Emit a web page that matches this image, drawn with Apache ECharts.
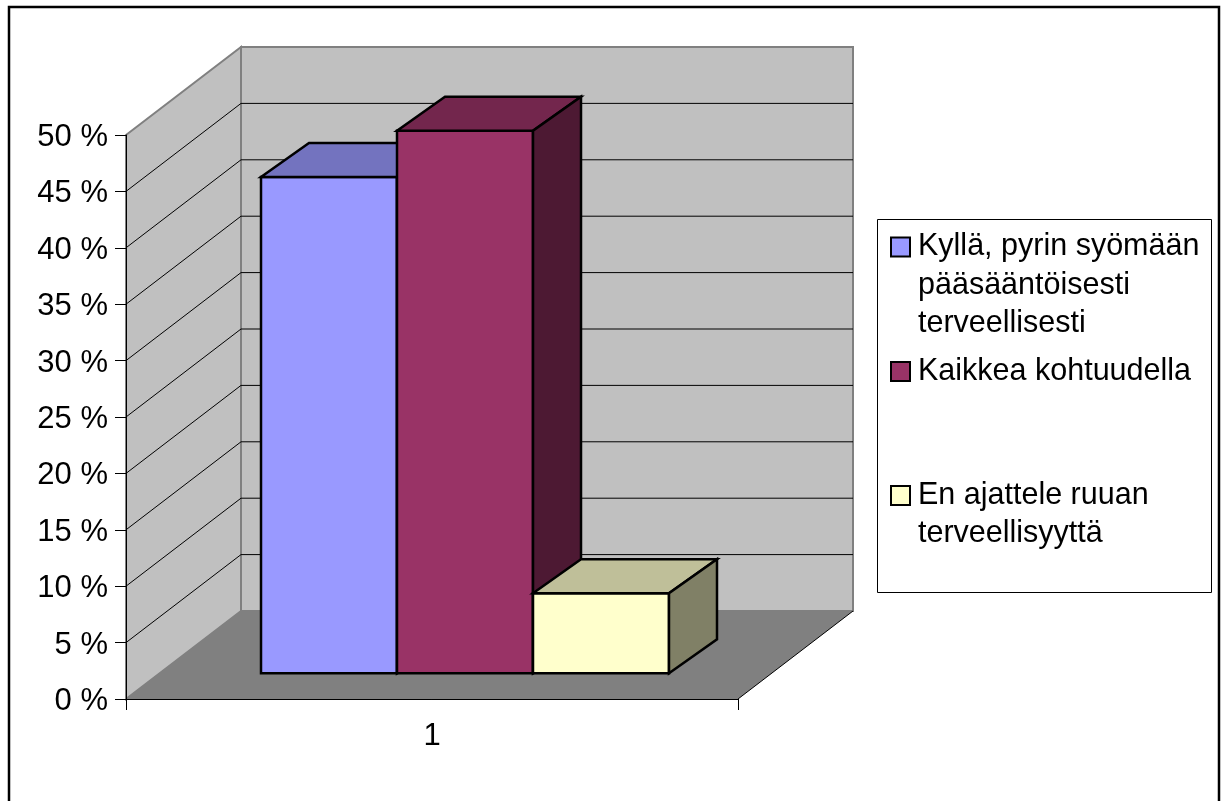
<!DOCTYPE html>
<html>
<head>
<meta charset="utf-8">
<style>html,body{margin:0;padding:0;background:#fff}#chart{width:1226px;height:801px}</style>
<script src="https://cdn.jsdelivr.net/npm/echarts@6/dist/echarts.min.js"></script>
</head>
<body>
<div id="chart"></div>
<script>
// Survey answers, percent of respondents
const categories = ['1'];
const seriesNames = ['Kyllä, pyrin syömään pääsääntöisesti terveellisesti', 'Kaikkea kohtuudella', 'En ajattele ruuan terveellisyyttä'];
const seriesValues = [44, 48.1, 7.1];
const legendLines = [
  ['Kyllä, pyrin syömään', 'pääsääntöisesti', 'terveellisesti'],
  ['Kaikkea kohtuudella'],
  ['En ajattele ruuan', 'terveellisyyttä']
];
const gridTicks = [5, 10, 15, 20, 25, 30, 35, 40, 45];
const axisMin = 0, axisMax = 50, axisStep = 5;

const frontColors = ['#9999ff', '#993366', '#ffffcc'];
const topColors = ['#7373bf', '#73264d', '#bfbf99'];
const sideColors = ['#4d4d80', '#4d1933', '#808066'];

// Oblique projection: full depth of the plot box and the offset and depth of the columns
const DEPTH_X = 115, DEPTH_Y = 88;
const BAR_OFFSET_X = 33, BAR_OFFSET_Y = 25.7;
const BAR_DEPTH_X = 48, BAR_DEPTH_Y = 34;
const GAP_SHARE = 0.75;   // gap on either side, in column widths

const FONT = '"Liberation Sans", Arial, sans-serif';
const FONT_SIZE = 31;
const LEGEND_FONT_SIZE = 30.5;
const LINE_HEIGHT = 38.5;

function poly(points, fill, stroke, width) {
  return {
    type: 'polygon',
    shape: { points: points },
    style: { fill: fill, stroke: stroke, lineWidth: width, lineJoin: 'miter' }
  };
}

function renderWalls(params, api) {
  const band = api.size([1, 0])[0];
  const cx = api.coord([0, axisMin])[0];
  const x0 = cx - band / 2, x1 = cx + band / 2;
  const y0 = api.coord([0, axisMin])[1], y1 = api.coord([0, axisMax])[1];
  return {
    type: 'group',
    children: [
      poly([[x0 + DEPTH_X, y1 - DEPTH_Y], [x1 + DEPTH_X, y1 - DEPTH_Y], [x1 + DEPTH_X, y0 - DEPTH_Y], [x0 + DEPTH_X, y0 - DEPTH_Y]], '#c0c0c0', '#808080', 2),
      poly([[x0, y1], [x0 + DEPTH_X, y1 - DEPTH_Y], [x0 + DEPTH_X, y0 - DEPTH_Y], [x0, y0]], '#c0c0c0', '#808080', 2),
      poly([[x0, y0], [x1, y0], [x1 + DEPTH_X, y0 - DEPTH_Y], [x0 + DEPTH_X, y0 - DEPTH_Y]], '#808080', null, 0),
      {
        type: 'line',
        shape: { x1: x1, y1: y0, x2: x1 + DEPTH_X, y2: y0 - DEPTH_Y },
        style: { stroke: '#000', lineWidth: 1 }
      }
    ]
  };
}

function renderGridline(params, api) {
  const band = api.size([1, 0])[0];
  const p = api.coord([0, api.value(1)]);
  const x0 = p[0] - band / 2, x1 = p[0] + band / 2;
  return {
    type: 'polyline',
    shape: { points: [[x0, p[1]], [x0 + DEPTH_X, p[1] - DEPTH_Y], [x1 + DEPTH_X, p[1] - DEPTH_Y]] },
    style: { stroke: '#000', lineWidth: 1, fill: null }
  };
}

function barRenderer(index) {
  return function (params, api) {
    const band = api.size([1, 0])[0];
    const base = api.coord([0, axisMin]);
    const top = api.coord([0, api.value(1)]);
    const w = band / (seriesValues.length + 2 * GAP_SHARE);
    const l = base[0] - band / 2 + w * (GAP_SHARE + index) + BAR_OFFSET_X;
    const r = l + w;
    const b = base[1] - BAR_OFFSET_Y;
    const t = top[1] - BAR_OFFSET_Y;
    const dx = BAR_DEPTH_X, dy = BAR_DEPTH_Y;
    return {
      type: 'group',
      children: [
        poly([[l, b], [r, b], [r, t], [l, t]], frontColors[index], '#000', 2.5),
        poly([[l, t], [r, t], [r + dx, t - dy], [l + dx, t - dy]], topColors[index], '#000', 2.5),
        poly([[r, b], [r + dx, b - dy], [r + dx, t - dy], [r, t]], sideColors[index], '#000', 2.5)
      ]
    };
  };
}

// One legend block per entry so each keeps its own vertical slot
const legendCentres = [246.5, 371, 495];
const legendBlocks = seriesNames.map(function (name, i) {
  const lines = legendLines[i];
  const padded = new Array(lines.length - 1).fill('').concat(lines);
  const height = padded.length * LINE_HEIGHT;
  return {
    show: true,
    data: [name],
    orient: 'vertical',
    left: 890,
    top: legendCentres[i] - height / 2,
    padding: 0,
    itemWidth: 19,
    itemHeight: 19,
    icon: 'rect',
    selectedMode: false,
    formatter: function () { return padded.join('\n'); },
    textStyle: {
      fontFamily: FONT,
      fontSize: LEGEND_FONT_SIZE,
      lineHeight: LINE_HEIGHT,
      color: '#000',
      padding: [1, 0, 0, 3]
    }
  };
});

const barSeries = seriesNames.map(function (name, i) {
  return {
    type: 'custom',
    name: name,
    z: 5 + i,
    renderItem: barRenderer(i),
    encode: { x: 0, y: 1 },
    itemStyle: { color: frontColors[i], borderColor: '#000', borderWidth: 2 },
    data: [[0, seriesValues[i]]]
  };
});

const chart = echarts.init(document.getElementById('chart'), null, { renderer: 'canvas' });
chart.setOption({
  animation: false,
  backgroundColor: '#fff',
  tooltip: { show: false },
  graphic: [
    {
      type: 'rect', z: 0, silent: true,
      shape: { x: 9, y: 7, width: 1210, height: 830 },
      style: { fill: null, stroke: '#000', lineWidth: 2.5 }
    },
    {
      type: 'rect', z: 0, silent: true,
      shape: { x: 877.5, y: 219.5, width: 334, height: 373 },
      style: { fill: '#fff', stroke: '#000', lineWidth: 1 }
    }
  ],
  legend: legendBlocks,
  grid: { left: 126, top: 135, width: 612, height: 564, containLabel: false },
  xAxis: {
    type: 'category',
    data: categories,
    z: 10,
    axisLine: { lineStyle: { color: '#000', width: 1 } },
    axisTick: { show: true, length: 11, lineStyle: { color: '#000', width: 1 } },
    axisLabel: { fontFamily: FONT, fontSize: FONT_SIZE, color: '#000', margin: 22 }
  },
  yAxis: {
    type: 'value',
    min: axisMin,
    max: axisMax,
    interval: axisStep,
    z: 10,
    splitLine: { show: false },
    axisLine: { show: true, lineStyle: { color: '#000', width: 1 } },
    axisTick: { show: true, length: 11, lineStyle: { color: '#000', width: 1 } },
    axisLabel: {
      margin: 18,
      formatter: '{n|{value} %}',
      rich: { n: { fontFamily: FONT, fontSize: FONT_SIZE, color: '#000', lineHeight: 31, padding: [5, 0, 0, 0] } }
    }
  },
  series: [
    { type: 'custom', name: 'walls', z: 1, silent: true, renderItem: renderWalls, encode: { x: 0, y: 1 }, data: [[0, axisMax]] },
    { type: 'custom', name: 'gridlines', z: 2, silent: true, renderItem: renderGridline, encode: { x: 0, y: 1 }, data: gridTicks.map(function (v) { return [0, v]; }) }
  ].concat(barSeries)
});
</script>
</body>
</html>
